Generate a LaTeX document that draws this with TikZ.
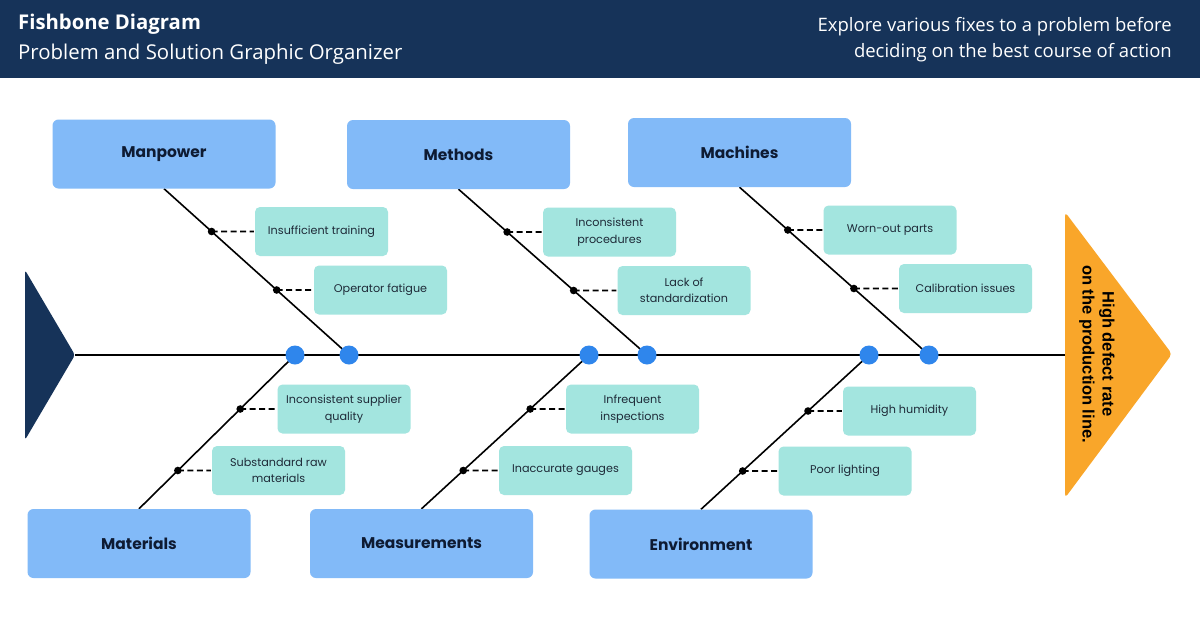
\documentclass[tikz,border=0pt]{standalone}
\usepackage{fontspec}
\setmainfont{Open Sans}
\newfontfamily\popf{Poppins}
\newfontfamily\arialf{Liberation Sans}
\usetikzlibrary{calc}
\definecolor{navy}{HTML}{163359}
\definecolor{catblue}{HTML}{82BAF8}
\definecolor{teal}{HTML}{A3E5DF}
\definecolor{dotblue}{HTML}{2F86EC}
\definecolor{orng}{HTML}{F9A62A}
\definecolor{ink}{HTML}{0E1B33}
\definecolor{causeink}{HTML}{1E2A38}
\pgfdeclarelayer{back}
\pgfdeclarelayer{bg}
\pgfsetlayers{back,bg,main}
\tikzset{
  cat/.style={rectangle, rounded corners=6pt, fill=catblue, minimum width=223pt, minimum height=69pt,
    inner sep=0pt, text=ink, font=\popf\bfseries\fontsize{15.5}{18}\selectfont},
  cause/.style={rectangle, rounded corners=5pt, fill=teal, minimum width=133pt, minimum height=49pt,
    inner sep=0pt, align=center, text=causeink, font=\popf\fontsize{11.2}{16.5}\selectfont},
  joint/.style={circle, fill=dotblue, minimum size=19pt, inner sep=0pt},
  bone/.style={draw=black, line width=1.6pt},
  spine/.style={draw=black, line width=2pt},
  twig/.style={draw=black, line width=1.8pt, dash pattern=on 6pt off 3.5pt},
  hdr/.style={anchor=base west, inner sep=0pt, text=white},
  hdrr/.style={anchor=base east, inner sep=0pt, text=white, font=\fontsize{18.5}{21}\selectfont},
}
\begin{document}
\begin{tikzpicture}[x=1pt,y=-1pt]
\useasboundingbox (0,0) rectangle (1200,627);
\begin{pgfonlayer}{back}
\fill[white] (0,0) rectangle (1200,627);
\fill[navy] (0,0) rectangle (1200,78);
\end{pgfonlayer}
% header
\node[hdr, font=\bfseries\fontsize{20.3}{23}\selectfont] (title) at (18,29) {Fishbone Diagram};
\node[hdr, font=\fontsize{20.4}{23}\selectfont] (subtitle) at (18,59) {Problem and Solution Graphic Organizer};
\node[hdrr] (intro1) at (1172,31) {Explore various fixes to a problem before};
\node[hdrr] (intro2) at (1172,57) {deciding on the best course of action};

% tail and head
\fill[navy, rounded corners=3pt] (25,270) -- (75,355) -- (25,440) -- cycle;
\coordinate (tail) at (75,355);
\fill[orng, rounded corners=4pt] (1065,212) -- (1172,354) -- (1065,498) -- cycle;
\coordinate (head) at (1065,355);
\node[rotate=-90, align=center, inner sep=0pt, text=black,
  font=\arialf\bfseries\fontsize{16.5}{20}\selectfont] (problem) at (1097,354)
  {High defect rate\\on the production line.};

% category boxes
\node[cat] (mp) at (164,154) {Manpower};
\node[cat] (me) at (458.5,154.5) {Methods};
\node[cat] (ma) at (739.5,152.5) {Machines};
\node[cat] (mt) at (139,543.5) {Materials};
\node[cat] (ms) at (421.5,543.5) {Measurements};
\node[cat] (en) at (701,544) {Environment};

% joints on spine
\node[joint] (d1) at (295,355) {};
\node[joint] (c1) at (349,355) {};
\node[joint] (d2) at (589,355) {};
\node[joint] (c2) at (647,355) {};
\node[joint] (d3) at (869,355) {};
\node[joint] (c3) at (929,355) {};

% cause boxes
\node[cause] (ins) at (321.5,231.5) {Insufficient training};
\node[cause] (opf) at (380.5,290) {Operator fatigue};
\node[cause] (inp) at (609.5,232) {Inconsistent\\procedures};
\node[cause] (los) at (684,290.5) {Lack of\\standardization};
\node[cause] (wop) at (890,230) {Worn-out parts};
\node[cause] (cal) at (965.5,288.5) {Calibration issues};
\node[cause] (isq) at (344,409) {Inconsistent supplier\\quality};
\node[cause] (srm) at (278.5,470.5) {Substandard raw\\materials};
\node[cause] (ifi) at (632.5,409) {Infrequent\\inspections};
\node[cause] (iag) at (565.5,470.5) {Inaccurate gauges};
\node[cause] (hh) at (909.5,411) {High humidity};
\node[cause] (pl) at (845,471) {Poor lighting};

% attachment points on bones
\coordinate (p1) at (intersection of mp.south--c1.center and ins.west--ins.east);
\coordinate (p2) at (intersection of mp.south--c1.center and opf.west--opf.east);
\coordinate (p3) at (intersection of me.south--c2.center and inp.west--inp.east);
\coordinate (p4) at (intersection of me.south--c2.center and los.west--los.east);
\coordinate (p5) at (intersection of ma.south--c3.center and wop.west--wop.east);
\coordinate (p6) at (intersection of ma.south--c3.center and cal.west--cal.east);
\coordinate (q1) at (intersection of d1.center--mt.north and isq.west--isq.east);
\coordinate (q2) at (intersection of d1.center--mt.north and srm.west--srm.east);
\coordinate (q3) at (intersection of d2.center--ms.north and ifi.west--ifi.east);
\coordinate (q4) at (intersection of d2.center--ms.north and iag.west--iag.east);
\coordinate (q5) at (intersection of d3.center--en.north and hh.west--hh.east);
\coordinate (q6) at (intersection of d3.center--en.north and pl.west--pl.east);

\begin{pgfonlayer}{bg}
  \draw[spine] (tail) -- (head);
  \draw[bone] (mp.south) -- (c1.center);
  \draw[bone] (me.south) -- (c2.center);
  \draw[bone] (ma.south) -- (c3.center);
  \draw[bone] (d1.center) -- (mt.north);
  \draw[bone] (d2.center) -- (ms.north);
  \draw[bone] (d3.center) -- (en.north);
\end{pgfonlayer}

\foreach \p/\b in {p1/ins,p2/opf,p3/inp,p4/los,p5/wop,p6/cal,q1/isq,q2/srm,q3/ifi,q4/iag,q5/hh,q6/pl}{
  \draw[twig] (\p) -- ([xshift=-1pt]\b.west);
  \fill[black] (\p) circle (3.8pt);
}
\end{tikzpicture}
\end{document}
